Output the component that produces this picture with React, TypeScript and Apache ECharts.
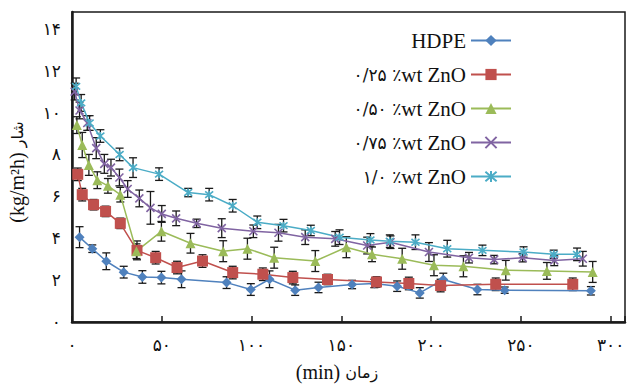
import React, { useEffect, useRef } from "react";
import * as echarts from "echarts";

const seriesNames = ["HDPE", "۰/۲۵ ٪wt ZnO", "۰/۵۰ ٪wt ZnO", "۰/۷۵ ٪wt ZnO", "۱/۰ ٪wt ZnO"];
const seriesColors = ["#4F81BD", "#C0504D", "#9BBB59", "#8064A2", "#4BACC6"];

const tHDPE = [4.2, 11.3, 19.1, 28.8, 39.2, 49.8, 61, 86.1, 99.6, 110, 124.3, 137.3, 156, 168.4, 181.1, 193.7, 206.8, 225.8, 241, 289];
const vHDPE = [4.05, 3.5, 2.9, 2.38, 2.15, 2.12, 2.04, 1.88, 1.55, 2.04, 1.52, 1.65, 1.79, 1.84, 1.71, 1.39, 2.03, 1.55, 1.52, 1.49];
const eHDPE = [0.5, 0.18, 0.4, 0.28, 0.3, 0.3, 0.4, 0.28, 0.28, 0.4, 0.25, 0.25, 0.2, 0.2, 0.25, 0.25, 0.3, 0.25, 0.15, 0.2];

const t025 = [3.2, 5.7, 12, 18.7, 26.9, 36.2, 46.6, 58.5, 72.7, 89.5, 106.3, 123, 142.3, 169.6, 187.6, 205.3, 236, 278.9];
const v025 = [7.05, 6.08, 5.6, 5.28, 4.71, 3.42, 3.07, 2.6, 2.91, 2.36, 2.28, 2.12, 2.03, 1.91, 1.84, 1.74, 1.8, 1.8];
const e025 = [0.3, 0.3, 0.25, 0.25, 0.25, 0.45, 0.3, 0.3, 0.3, 0.3, 0.3, 0.3, 0.25, 0.25, 0.3, 0.3, 0.3, 0.3];

const t050 = [2.7, 5.7, 9.4, 14.1, 20, 26.9, 35.9, 49.8, 66, 84.2, 97.7, 112.6, 135.5, 152.8, 167.1, 183.9, 201.6, 218, 241.6, 264.5, 290];
const v050 = [9.4, 8.45, 7.5, 6.77, 6.5, 6.08, 3.38, 4.33, 3.76, 3.38, 3.5, 3.07, 2.91, 3.57, 3.23, 3.02, 2.71, 2.66, 2.47, 2.44, 2.39];
const e050 = [0.4, 0.6, 0.5, 0.4, 0.35, 0.35, 0.35, 0.47, 0.47, 0.5, 0.5, 0.5, 0.5, 0.5, 0.35, 0.5, 0.5, 0.5, 0.47, 0.4, 0.5];

const t075 = [1.5, 4.2, 8.5, 13.5, 18, 21.7, 26.4, 31, 37.5, 43.7, 50, 58, 69.4, 83.4, 101, 115, 129.9, 146.6, 164.4, 177.4, 198.8, 221.1, 235.1, 251, 268.6, 284.5];
const v075 = [11.0, 10.1, 9.5, 8.3, 7.55, 7.37, 6.9, 6.35, 5.9, 5.45, 5.16, 4.95, 4.71, 4.48, 4.33, 4.26, 4.05, 3.97, 3.65, 3.81, 3.34, 3.07, 2.98, 3.07, 2.94, 3.02];
const e075 = [0.4, 0.4, 0.35, 0.5, 0.45, 0.4, 0.4, 0.4, 0.4, 0.78, 0.4, 0.35, 0.2, 0.45, 0.3, 0.4, 0.35, 0.35, 0.4, 0.3, 0.45, 0.25, 0.2, 0.2, 0.25, 0.35];

const t100 = [2.3, 5.1, 9.8, 15.8, 26.5, 34, 48.5, 64.7, 76.4, 89.5, 103.2, 117.8, 133, 149, 166.2, 177, 191.3, 209, 228.6, 251.5, 268.3, 281.3];
const v100 = [11.25, 10.46, 9.5, 8.88, 8.0, 7.37, 7.06, 6.18, 6.08, 5.55, 4.76, 4.6, 4.37, 4.05, 3.92, 3.86, 3.81, 3.5, 3.42, 3.34, 3.23, 3.23];
const e100 = [0.4, 0.4, 0.35, 0.3, 0.3, 0.47, 0.3, 0.2, 0.3, 0.3, 0.3, 0.3, 0.25, 0.35, 0.3, 0.3, 0.35, 0.4, 0.25, 0.25, 0.2, 0.3];

const xTicks = [0, 50, 100, 150, 200, 250, 300];
const yTicks = [0, 2, 4, 6, 8, 10, 12, 14];

const xTitleLatin = "(min) ";
const xTitleFa = "زمان";
const yTitleLatin = "(kg/m²h) ";
const yTitleFa = "شار";

const SERIF = "Liberation Serif";
const ARABIC = "DejaVu Sans";
const persian = (n: number) => String(n).replace(/\d/g, (d) => "۰۱۲۳۴۵۶۷۸۹"[Number(d)]);

const symbols = [
  "diamond",
  "rect",
  "triangle",
  "path://M0,0L10,10M10,0L0,10",
  "path://M0,0L10,10M10,0L0,10M5,-1L5,11",
];
const symbolSizes = [10, 11, 10, 8, 8];

// split legend name into Persian (digits + percent) part and Latin part
const legendFormatter = (name: string) => {
  const m = name.match(/^([^A-Za-z]*)(.*)$/);
  if (!m || !m[1]) return "{lat|" + name + "}";
  return "{ar|" + m[1] + "}{lat|" + m[2] + "}";
};

export default function App() {
  const ref = useRef<HTMLDivElement>(null);
  useEffect(() => {
    if (!ref.current) return;
    const chart = echarts.init(ref.current, undefined, { renderer: "svg" });
    const groups = [
      [tHDPE, vHDPE, eHDPE],
      [t025, v025, e025],
      [t050, v050, e050],
      [t075, v075, e075],
      [t100, v100, e100],
    ];
    const series: any[] = [];
    groups.forEach(([t, v, e], i) => {
      series.push({
        type: "custom",
        name: "err" + i,
        z: 1,
        renderItem: (params: any, api: any) => {
          const x = api.value(0);
          const lo = api.value(1);
          const hi = api.value(2);
          const p1 = api.coord([x, hi]);
          const p2 = api.coord([x, lo]);
          const w = 4;
          const st = { stroke: "#1a1a1a", lineWidth: 1.3 };
          return {
            type: "group",
            children: [
              { type: "line", shape: { x1: p1[0], y1: p1[1], x2: p2[0], y2: p2[1] }, style: st },
              { type: "line", shape: { x1: p1[0] - w, y1: p1[1], x2: p1[0] + w, y2: p1[1] }, style: st },
              { type: "line", shape: { x1: p2[0] - w, y1: p2[1], x2: p2[0] + w, y2: p2[1] }, style: st },
            ],
          };
        },
        encode: { x: 0, y: [1, 2] },
        data: (t as number[]).map((tt, k) => [tt, v[k] - e[k], v[k] + e[k]]),
        silent: true,
      });
    });
    groups.forEach(([t, v], i) => {
      const isPath = i >= 3;
      series.push({
        type: "line",
        name: seriesNames[i],
        z: 3,
        data: (t as number[]).map((tt, k) => [tt, v[k]]),
        symbol: symbols[i],
        symbolSize: symbolSizes[i],
        showAllSymbol: true,
        lineStyle: { color: seriesColors[i], width: 1.5 },
        itemStyle: isPath
          ? { color: "rgba(0,0,0,0)", borderColor: seriesColors[i], borderWidth: 1.6 }
          : { color: seriesColors[i], borderColor: seriesColors[i], borderWidth: 0 },
        color: seriesColors[i],
      });
    });

    chart.setOption({
      animation: false,
      backgroundColor: "#ffffff",
      grid: {
        left: 72,
        right: 5,
        top: 12,
        bottom: 62,
        show: true,
        borderColor: "#1a1a1a",
        borderWidth: 1.5,
      },
      legend: {
        data: seriesNames,
        orient: "vertical",
        align: "right",
        right: 118,
        top: 30,
        padding: 0,
        itemGap: 13,
        itemWidth: 40,
        itemHeight: 14,
        formatter: legendFormatter,
        textStyle: {
          fontFamily: SERIF,
          fontSize: 21,
          lineHeight: 20,
          color: "#111",
          rich: {
            lat: { fontFamily: SERIF, fontSize: 21, lineHeight: 20, color: "#111" },
            ar: { fontFamily: ARABIC, fontSize: 17, lineHeight: 20, color: "#111" },
          },
        },
      },
      graphic: [
        {
          type: "text",
          x: 337,
          y: 372,
          style: {
            text: "{lat|" + xTitleLatin + "}{ar|" + xTitleFa + "}",
            fill: "#111",
            align: "center",
            verticalAlign: "middle",
            rich: {
              lat: { fontFamily: SERIF, fontSize: 20, fill: "#111" },
              ar: { fontFamily: ARABIC, fontSize: 16, fill: "#111" },
            },
          },
        },
        {
          type: "text",
          x: 17,
          y: 172,
          rotation: Math.PI / 2,
          style: {
            text: "{lat|" + yTitleLatin + "}{ar|" + yTitleFa + "}",
            fill: "#111",
            align: "center",
            verticalAlign: "middle",
            rich: {
              lat: { fontFamily: SERIF, fontSize: 20, fill: "#111" },
              ar: { fontFamily: ARABIC, fontSize: 16, fill: "#111" },
            },
          },
        },
      ],
      xAxis: {
        type: "value",
        min: 0,
        max: 308,
        interval: 50,
        axisLine: { show: true, lineStyle: { color: "#1a1a1a", width: 2.5 } },
        axisTick: { show: true, inside: true, length: 6, lineStyle: { color: "#1a1a1a", width: 1.5 } },
        splitLine: { show: false },
        axisLabel: {
          margin: 14,
          fontFamily: ARABIC,
          fontSize: 17,
          color: "#111",
          formatter: (val: number) => (xTicks.includes(val) ? persian(val) : ""),
        },
      },
      yAxis: {
        type: "value",
        min: 0,
        max: 14.8,
        interval: 2,
        axisLine: { show: true, lineStyle: { color: "#1a1a1a", width: 2.5 } },
        axisTick: { show: false },
        splitLine: { show: false },
        axisLabel: {
          margin: 11,
          fontFamily: ARABIC,
          fontSize: 17,
          color: "#111",
          formatter: (val: number) => (yTicks.includes(val) ? persian(val) : ""),
        },
      },
      series,
    });
    return () => chart.dispose();
  }, []);
  return (
    <div
      ref={ref}
      style={{ position: "fixed", left: 0, top: 0, width: 630, height: 384, background: "#fff" }}
    />
  );
}
